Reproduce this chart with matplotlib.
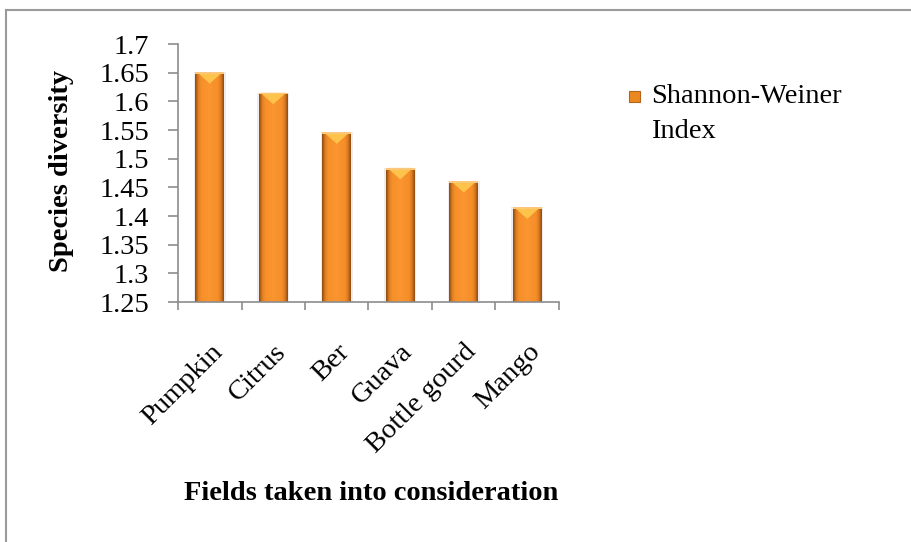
"""Shannon-Weiner diversity index per field, bar chart with shaded bars.

    python plot.py   -> out.png
"""
import numpy as np
import matplotlib
matplotlib.use("Agg")
import matplotlib.pyplot as plt
from matplotlib.colors import LinearSegmentedColormap
from matplotlib.patches import Polygon, Rectangle
from matplotlib.lines import Line2D

fields = ["Pumpkin", "Citrus", "Ber", "Guava", "Bottle gourd", "Mango"]
shannon = [1.651, 1.615, 1.546, 1.484, 1.461, 1.415]
yticks = [1.25, 1.3, 1.35, 1.4, 1.45, 1.5, 1.55, 1.6, 1.65, 1.7]
ytick_labels = ["1.25", "1.3", "1.35", "1.4", "1.45", "1.5", "1.55", "1.6", "1.65", "1.7"]
series_name = "Shannon-Weiner\nIndex"

plt.rcParams["font.family"] = ["Liberation Serif", "DejaVu Serif"]
FS = 20.5
AXIS_GREY = "#8c8c8c"

# horizontal shading across a bar: thin dark rim, flat bright body
bar_cmap = LinearSegmentedColormap.from_list(
    "bar", [(0.0, "#9c5414"), (0.1, "#e07e22"), (0.22, "#f7902a"), (0.5, "#fa9530"),
            (0.8, "#f58e29"), (0.9, "#dc7a20"), (1.0, "#8f4c12")])


def shaded_bars(ax, x, vals, width, base):
    rects = ax.bar(x, np.array(vals) - base, width, bottom=base, color="none", lw=0)
    xs = np.linspace(0, 1, 80)
    ys = np.linspace(0, 1, 80)
    grad = np.tile(xs, (80, 1))
    # slightly darker toward the bottom
    shade = 0.9 + 0.1 * np.clip(ys[:, None] * 8, 0, 1)
    for r in rects:
        x0, y0 = r.get_x(), r.get_y()
        w, h = r.get_width(), r.get_height()
        rgba = bar_cmap(grad)
        rgba[..., :3] *= shade
        im = ax.imshow(rgba, extent=(x0, x0 + w, y0, y0 + h), origin="upper",
                       aspect="auto", interpolation="bilinear", zorder=2)
        im.set_clip_path(r)
        # soft grey shadow either side
        for dx in (-0.025, w):
            ax.add_patch(Rectangle((x0 + dx, y0), 0.025, h, facecolor="#000000",
                                   alpha=0.07, edgecolor="none", zorder=1))
        # bevel highlight on the top of the bar
        tri_h = 0.02
        ax.add_patch(Polygon([(x0 + 0.05 * w, y0 + h), (x0 + 0.95 * w, y0 + h),
                              (x0 + 0.5 * w, y0 + h - tri_h)],
                             closed=True, facecolor="#ffc64c", edgecolor="none",
                             alpha=0.95, zorder=3))
        ax.add_patch(Rectangle((x0, y0 + h - 0.003), w, 0.003, facecolor="#fbc77a",
                               edgecolor="none", zorder=3))
    return rects


fig = plt.figure(figsize=(9.11, 5.42), dpi=100)
ax = fig.add_axes([0.1954, 0.4428, 0.4182, 0.476])

x = np.arange(len(fields))
shaded_bars(ax, x, shannon, 0.45, yticks[0])

ax.set_xlim(-0.5, len(fields) - 0.5)
ax.set_ylim(yticks[0], yticks[-1])
ax.set_yticks(yticks)
ax.set_yticklabels(ytick_labels, fontsize=FS)
ax.set_xticks(x)
ax.set_xticklabels(fields, fontsize=FS, rotation=45, ha="right", rotation_mode="anchor")
ax.set_xticks(np.arange(len(fields) + 1) - 0.5, minor=True)
ax.tick_params(axis="x", which="major", length=0, pad=27)
ax.tick_params(axis="x", which="minor", length=6, color=AXIS_GREY, width=1.2)
ax.tick_params(axis="y", length=7, color=AXIS_GREY, width=1.2, pad=14)
for s in ("top", "right"):
    ax.spines[s].set_visible(False)
for s in ("left", "bottom"):
    ax.spines[s].set_color(AXIS_GREY)
    ax.spines[s].set_linewidth(1.2)

fig.text(62 / 911, 1 - 171 / 542, "Species diversity", rotation=90, fontsize=FS,
         fontweight="bold", ha="center", va="center")
fig.text(371 / 911, 1 - 493 / 542, "Fields taken into consideration", fontsize=FS,
         fontweight="bold", ha="center", va="center")

# legend: small swatch beside a two-line label
fig.add_artist(Rectangle((629 / 911, 1 - 102 / 542), 11 / 911, 11 / 542,
                         facecolor="#ec8820", edgecolor="#b5641c", lw=0.8,
                         transform=fig.transFigure))
fig.text(651 / 911, 1 - 84 / 542, series_name, fontsize=FS, ha="left", va="top",
         linespacing=1.5)

# outer chart frame (only top and left edges fall inside the image)
fig.add_artist(Line2D([6 / 911, 1], [1 - 10 / 542] * 2, color="#9a9a9a", lw=1.5,
                      transform=fig.transFigure))
fig.add_artist(Line2D([6 / 911] * 2, [0, 1 - 10 / 542], color="#9a9a9a", lw=1.5,
                      transform=fig.transFigure))

fig.savefig("out.png", dpi=100)
